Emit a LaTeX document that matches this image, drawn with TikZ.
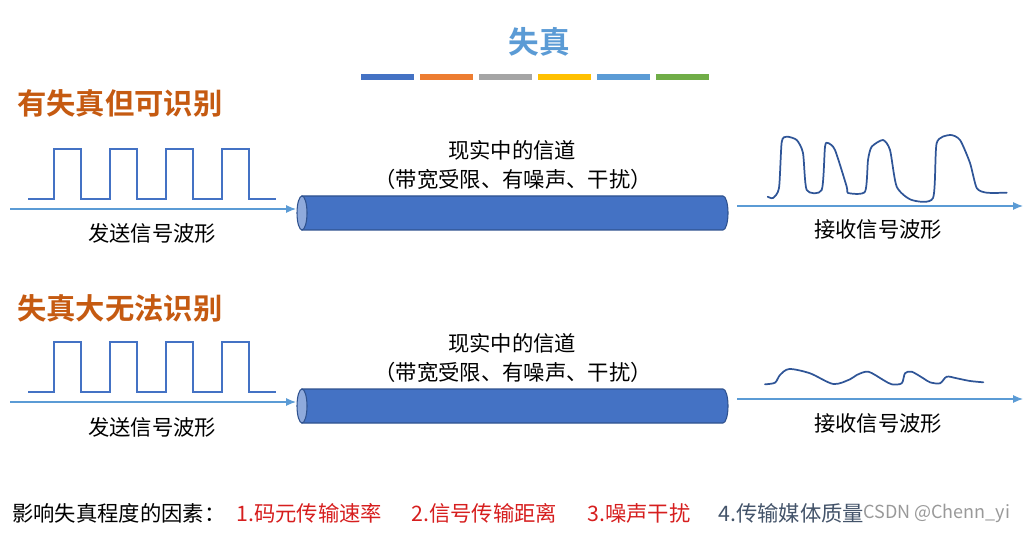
\documentclass[tikz,border=0pt]{standalone}
\usepackage{fontspec}
\setmainfont{Noto Sans CJK SC}[BoldFont={Noto Sans CJK SC Bold}]
\usetikzlibrary{arrows.meta}

\definecolor{chblue}{HTML}{4472C4}
\definecolor{chlight}{HTML}{8FAADC}
\definecolor{chedge}{HTML}{2F528F}
\definecolor{ttlorange}{HTML}{C55A11}
\definecolor{ttlblue}{HTML}{5B9BD5}
\definecolor{rxblue}{HTML}{2F5597}
\definecolor{factred}{RGB}{214,30,30}
\definecolor{factgray}{HTML}{44546A}
\definecolor{barorange}{HTML}{ED7D31}
\definecolor{bargray}{HTML}{A5A5A5}
\definecolor{baryellow}{HTML}{FFC000}
\definecolor{bargreen}{HTML}{70AD47}

\tikzset{
    sig/.style={draw=ttlblue, line width=0.8pt, -{Latex[length=7.5pt,width=6pt]}},
    sqwave/.style={draw=chblue, line width=1.1pt},
    rxwave/.style={draw=rxblue, line width=1.3pt, line join=round, line cap=round},
    lbl/.style={inner sep=0pt, font=\fontsize{16pt}{19pt}\selectfont},
    rowtitle/.style={inner sep=0pt, anchor=west, text=ttlorange, font=\fontsize{22pt}{26pt}\selectfont\bfseries},
    factor/.style={inner sep=0pt, anchor=west, font=\fontsize{16pt}{19pt}\selectfont},
}

\begin{document}
\begin{tikzpicture}[x=0.75pt, y=-0.75pt]
    \useasboundingbox (0, 0) rectangle (1030, 534);

    \node[inner sep=0pt, text=ttlblue, font=\fontsize{23pt}{27pt}\selectfont\bfseries] (title) at (539, 42) {失真};
    \foreach \c [count=\i] in {chblue, barorange, bargray, baryellow, ttlblue, bargreen}
        \fill[\c] ({361 + (\i - 1) * 59}, 74) rectangle ++(53, 6);

    \begin{scope}[shift={(0, 0)}]
        \node[rowtitle] (titleA) at (17, 103) {有失真但可识别};

        \draw[sqwave] (28, 199) foreach \x in {54, 110, 166, 222} {-- (\x, 199) -- (\x, 149) -- ++(27, 0) -- ++(0, 50)} -- (276, 199);
        \coordinate (sendA0) at (10, 209); \coordinate (sendA1) at (296, 209);
        \draw[sig] (sendA0) -- (sendA1);
        \node[lbl] (sendlblA) at (152, 233) {发送信号波形};

        \draw[fill=chblue, draw=chedge, line width=0.8pt] (302, 196) -- (723, 196) arc[start angle=-90, end angle=90, x radius=5, y radius=17] -- (302, 230) -- cycle;
        \draw[fill=chlight, draw=chedge, line width=0.8pt] (302, 213) ellipse[x radius=5, y radius=17];
        \node[lbl] (chanA) at (512, 150) {现实中的信道};
        \node[lbl] (channoteA) at (513, 179) {（带宽受限、有噪声、干扰）};

        \coordinate (recvA0) at (737, 206); \coordinate (recvA1) at (1023, 206);
        \draw[sig] (recvA0) -- (recvA1);
        \draw[rxwave] plot[smooth, tension=0.4] coordinates {(767.7, 196.7) (773, 198) (779, 188) (781.7, 142) (786.7, 136.7) (796.7, 140) (803, 153) (806.7, 190) (821.7, 190) (825, 146.7) (828, 143) (835, 150) (846.7, 186.7) (848, 193) (865, 191.7) (868, 160) (871.7, 146.7) (883, 140) (890, 150) (896.7, 186.7) (911.7, 200) (933, 198) (936.7, 143) (950, 135) (960, 140) (970, 163) (976.7, 188) (986.7, 192.7) (1006.7, 192.7)};
        \node[lbl] (recvlblA) at (878, 229) {接收信号波形};
    \end{scope}

    \begin{scope}[shift={(0, 193)}]
        \node[rowtitle] (titleB) at (17, 115) {失真大无法识别};

        \draw[sqwave] (28, 199) foreach \x in {54, 110, 166, 222} {-- (\x, 199) -- (\x, 149) -- ++(27, 0) -- ++(0, 50)} -- (276, 199);
        \coordinate (sendB0) at (10, 209); \coordinate (sendB1) at (296, 209);
        \draw[sig] (sendB0) -- (sendB1);
        \node[lbl] (sendlblB) at (152, 234) {发送信号波形};

        \draw[fill=chblue, draw=chedge, line width=0.8pt] (302, 196) -- (723, 196) arc[start angle=-90, end angle=90, x radius=5, y radius=17] -- (302, 230) -- cycle;
        \draw[fill=chlight, draw=chedge, line width=0.8pt] (302, 213) ellipse[x radius=5, y radius=17];
        \node[lbl] (chanB) at (512, 150) {现实中的信道};
        \node[lbl] (chanoteB) at (513, 179) {（带宽受限、有噪声、干扰）};

        \coordinate (recvB0) at (737, 206); \coordinate (recvB1) at (1023, 206);
        \draw[sig] (recvB0) -- (recvB1);
        \draw[rxwave] plot[smooth, tension=0.5] coordinates {(765, 191.3) (775, 189.7) (780, 182) (789.3, 176) (810, 180.3) (833.3, 191) (850, 186.3) (856.7, 182) (868.3, 178.7) (883.3, 187) (891.7, 191.3) (901.7, 190.3) (905, 180.3) (911.7, 178.7) (923.3, 185.3) (930, 189.3) (940, 190.3) (946.7, 183.7) (956.7, 185.3) (970, 188) (983.3, 189.3)};
        \node[lbl] (recvlblB) at (878, 230) {接收信号波形};
    \end{scope}

    % factors
    \node[factor] (factors) at (12, 513) {影响失真程度的因素：};
    \node[factor, text=factred] (rate) at (236, 513) {1.码元传输速率};
    \node[factor, text=factred] (dist) at (411, 513) {2.信号传输距离};
    \node[factor, text=factred] (noise) at (587, 513) {3.噪声干扰};
    \node[factor, text=factgray] (media) at (718, 513) {4.传输媒体质量};
    \node[factor, text=black!40, font=\fontsize{13.5pt}{16pt}\selectfont] (mark) at (863, 513) {CSDN @Chenn\_yi};
\end{tikzpicture}
\end{document}
